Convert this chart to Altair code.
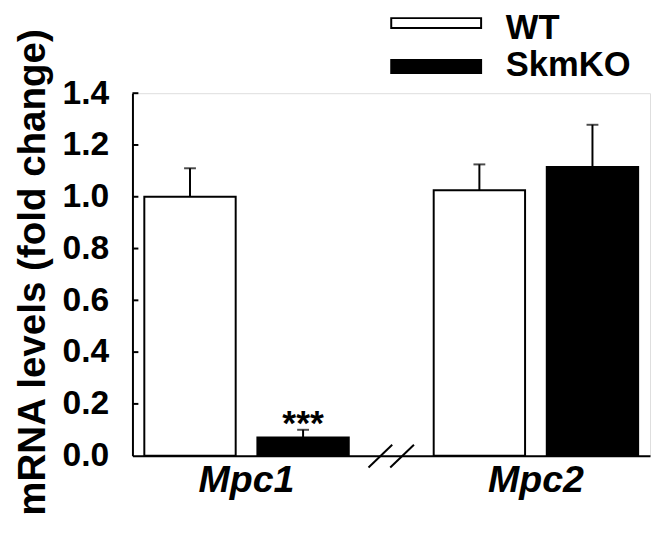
import altair as alt
import pandas as pd

# ---- data ----
genes = ["Mpc1", "Mpc2"]
genotypes = ["WT", "SkmKO"]
wt_means = [1.00, 1.025]
wt_errs = [0.11, 0.10]
ko_means = [0.07, 1.115]
ko_errs = [0.03, 0.163]
ko_sig = ["***", ""]
wt_sig = ["", ""]
fills = ["white", "black"]
y_ticks = [0.0, 0.2, 0.4, 0.6, 0.8, 1.0, 1.2, 1.4]
y_title = "mRNA levels (fold change)"

rows = []
for g, means, errs, sigs in [("WT", wt_means, wt_errs, wt_sig), ("SkmKO", ko_means, ko_errs, ko_sig)]:
    for gene, m, e, s in zip(genes, means, errs, sigs):
        rows.append(dict(gene=gene, genotype=g, mean=m, err=e, top=m + e, sig=s))
df = pd.DataFrame(rows)

FONT = "Liberation Sans"
W, H = 524, 367

x_enc = alt.X(
    "gene:N",
    title=None,
    sort=genes,
    scale=alt.Scale(domain=genes, paddingInner=0.2935, paddingOuter=0.041),
    axis=alt.Axis(
        labelFont=FONT, labelFontSize=38, labelFontWeight="bold", labelFontStyle="italic",
        labelColor="black", labelAngle=0, labelPadding=6, ticks=False, tickSize=0,
        domainColor="black", domainWidth=2, grid=False,
    ),
)
xoff_enc = alt.XOffset(
    "genotype:N", sort=genotypes,
    scale=alt.Scale(domain=genotypes, paddingInner=0.192, paddingOuter=0),
)
y_scale = alt.Scale(domain=[0, 1.4], nice=False, zero=True)

base = alt.Chart(df)

bars = base.mark_bar(stroke="black", strokeWidth=2).encode(
    x=x_enc,
    xOffset=xoff_enc,
    y=alt.Y(
        "mean:Q", title=y_title, scale=y_scale,
        axis=alt.Axis(
            values=y_ticks, format=".1f", grid=False, ticks=False, tickSize=0,
            labelFont=FONT, labelFontSize=34, labelFontWeight="bold", labelColor="black",
            labelPadding=24, domainColor="black", domainWidth=2,
            titleFont=FONT, titleFontSize=39, titleFontWeight="bold", titleColor="black",
            titleAngle=270, titleAlign="center", titleBaseline="middle",
            titleX=-101, titleY=181,
        ),
    ),
    fill=alt.Fill("genotype:N", scale=alt.Scale(domain=genotypes, range=fills), legend=None),
)

whiskers = base.mark_rule(color="black", strokeWidth=2).encode(
    x=x_enc, xOffset=xoff_enc,
    y=alt.Y("mean:Q", title=y_title, scale=y_scale),
    y2="top:Q",
)

caps = base.mark_tick(color="black", thickness=2, size=12, orient="horizontal").encode(
    x=x_enc, xOffset=xoff_enc,
    y=alt.Y("top:Q", title=y_title, scale=y_scale),
)

stars = base.mark_text(
    font=FONT, fontSize=36, fontWeight="bold", color="black", baseline="alphabetic", dy=5
).encode(
    x=x_enc, xOffset=xoff_enc,
    y=alt.Y("top:Q", title=y_title, scale=y_scale),
    text="sig:N",
)

# inward y ticks
tick_df = pd.DataFrame({"v": y_ticks[1:]})
inner_ticks = alt.Chart(tick_df).mark_rule(color="black", strokeWidth=2).encode(
    y=alt.Y("v:Q", title=y_title, scale=y_scale),
    x=alt.value(0),
    x2=alt.value(6),
)

# axis break marks
one = pd.DataFrame({"k": [0]})
brk1 = alt.Chart(one).mark_rule(color="black", strokeWidth=2).encode(
    x=alt.value(239), x2=alt.value(263), y=alt.value(379), y2=alt.value(356)
)
brk2 = alt.Chart(one).mark_rule(color="black", strokeWidth=2).encode(
    x=alt.value(261), x2=alt.value(285), y=alt.value(379), y2=alt.value(356)
)

# legend (manual)
leg_layers = []
leg_rows = [(-71, 10, -66), (-27, 13, -28)]
for g, fcol, (yc, h, ty) in zip(genotypes, fills, leg_rows):
    ldf = pd.DataFrame({"genotype": [g]})
    rect = alt.Chart(ldf).mark_rect(fill=fcol, stroke="black", strokeWidth=2).encode(
        x=alt.value(262), x2=alt.value(353),
        y=alt.value(yc - h / 2), y2=alt.value(yc + h / 2),
    )
    txt = alt.Chart(ldf).mark_text(
        font=FONT, fontSize=35, fontWeight="bold", color="black", align="left", baseline="middle"
    ).encode(x=alt.value(378), y=alt.value(ty), text="genotype:N")
    leg_layers += [rect, txt]

chart = alt.layer(
    bars, whiskers, caps, stars, inner_ticks, brk1, brk2, *leg_layers
).properties(
    width=W, height=H,
    padding={"left": 126, "top": 83, "right": 1, "bottom": 73},
    autosize=alt.AutoSizeParams(type="none"),
).configure_view(stroke=None).configure(background="white")

chart.save("out.html", embed_options={"renderer": "svg", "actions": False})
